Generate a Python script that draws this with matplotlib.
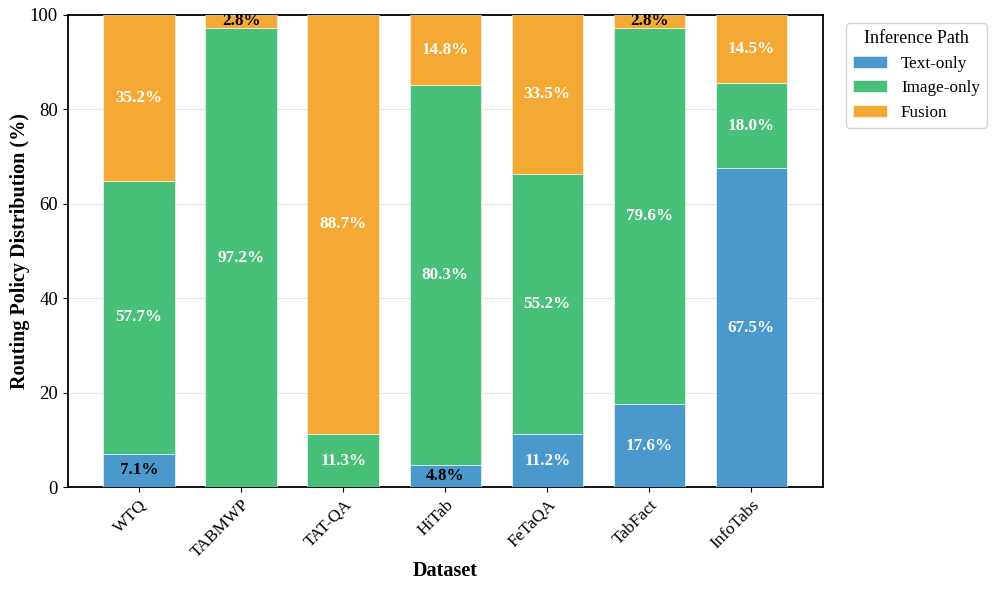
import matplotlib
matplotlib.use("Agg")
import matplotlib.pyplot as plt
import numpy as np

plt.rcParams['font.family'] = ['Liberation Serif', 'DejaVu Serif']

datasets = ["WTQ", "TABMWP", "TAT-QA", "HiTab", "FeTaQA", "TabFact", "InfoTabs"]
text_only = [7.1, 0.0, 0.0, 4.8, 11.2, 17.6, 67.5]
image_only = [57.7, 97.2, 11.3, 80.3, 55.2, 79.6, 18.0]
fusion = [35.2, 2.8, 88.7, 14.8, 33.5, 2.8, 14.5]
series_names = ["Text-only", "Image-only", "Fusion"]
colors = ["#4A98CC", "#48C07A", "#F5A935"]

fig, ax = plt.subplots(figsize=(9.96, 5.92), dpi=100)
x = np.arange(len(datasets))
bottom = np.zeros(len(datasets))
for vals, name, c in zip([text_only, image_only, fusion], series_names, colors):
    vals = np.array(vals)
    ax.bar(x, vals, 0.7, bottom=bottom, color=c, label=name,
           edgecolor='white', linewidth=0.4, zorder=3)
    for xi, v, b in zip(x, vals, bottom):
        if v > 0:
            col = 'black' if v < 10 else 'white'
            ax.text(xi, b + v / 2, f"{v:.1f}%", ha='center', va='center',
                    color=col, fontsize=12.3, fontweight='bold', zorder=4)
    bottom += vals

ax.set_xlim(-0.7, 6.7)
ax.set_ylim(0, 100)
ax.set_xticks(x)
ax.set_xticklabels(datasets, rotation=45, ha='right', rotation_mode='anchor', fontsize=12.5)
ax.tick_params(axis='y', labelsize=13.5)
ax.set_xlabel("Dataset", fontsize=14.5, fontweight='bold', labelpad=0)
ax.set_ylabel("Routing Policy Distribution (%)", fontsize=14.5, fontweight='bold', labelpad=0)
ax.yaxis.grid(True, alpha=0.3, zorder=0)
ax.set_axisbelow(True)
for s in ax.spines.values():
    s.set_linewidth(1.3)
ax.legend(title="Inference Path", loc='upper left', bbox_to_anchor=(1.02, 1.0),
          fontsize=12.3, title_fontsize=13)
fig.subplots_adjust(left=0.068, right=0.826, top=0.975, bottom=0.177)
fig.savefig("out.png", dpi=100)
